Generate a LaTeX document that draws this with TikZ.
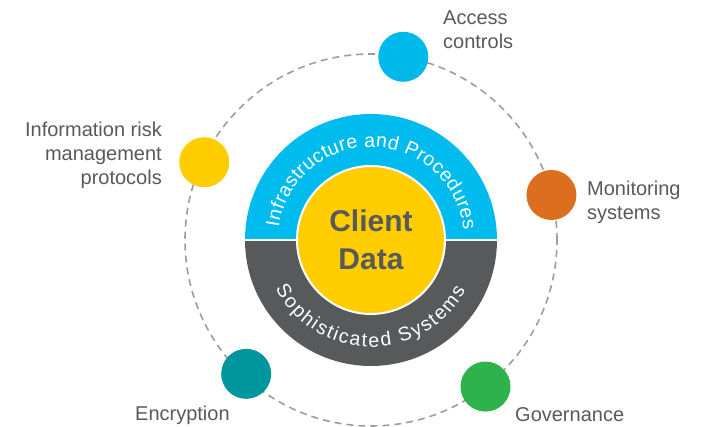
\documentclass[tikz,border=0pt]{standalone}
\usepackage{fontspec}
\setmainfont{Liberation Sans}
\usetikzlibrary{decorations.text}

\definecolor{ringblue}{HTML}{00BCEE}
\definecolor{ringgray}{HTML}{58595B}
\definecolor{datayellow}{HTML}{FFCD00}
\definecolor{accessblue}{HTML}{00B9EB}
\definecolor{monitororange}{HTML}{DC6F1F}
\definecolor{govgreen}{HTML}{2EB24B}
\definecolor{encteal}{HTML}{00969E}
\definecolor{labelgray}{HTML}{58595B}
\definecolor{dashgray}{HTML}{9D9D9D}

\begin{document}
\begin{tikzpicture}[
    x=1pt, y=1pt,
    dot/.style = {
      circle,
      minimum size=50pt,
      inner sep=0pt
    },
    lbl/.style = {
      text=labelgray,
      font=\fontsize{20}{24}\selectfont,
      inner sep=0pt
    }
  ]
    \useasboundingbox (-371,-187) rectangle (331,240);

    % Dashed orbit
    \draw[dashgray, line width=1.6pt, dash pattern=on 7pt off 5pt] (0,0) circle[radius=186pt];

    % Two half rings
    \fill[ringblue] (0,0) -- (0:126pt) arc[start angle=0, end angle=180, radius=126pt] -- cycle;
    \fill[ringgray] (0,0) -- (180:126pt) arc[start angle=180, end angle=360, radius=126pt] -- cycle;
    \draw[white, line width=1.5pt] (-127,0) -- (127,0);

    % Texts on the rings
    \path[decorate, decoration={text along path, text align=fit to path, text color=white,
      text={|\fontsize{19.5}{19.5}\selectfont|Infrastructure and Procedures}}]
      (172:93pt) arc[start angle=172, end angle=6, radius=93pt];
    \path[decorate, decoration={text along path, text align=fit to path, text color=white,
      text={|\fontsize{19.5}{19.5}\selectfont|Sophisticated Systems}}]
      (207:107pt) arc[start angle=207, end angle=332, radius=107pt];

    % Centre
    \node[circle, fill=datayellow, draw=white, line width=2pt, minimum size=148pt,
      text=labelgray, font=\fontsize{30}{38}\selectfont\bfseries, align=center]
      (data) at (0,0) {Client\\Data};

    % Dots on the orbit
    \node[dot, fill=accessblue]    (access)  at (80:186pt)  {};
    \node[dot, fill=monitororange] (monitor) at (14:186pt)  {};
    \node[dot, fill=govgreen]      (gov)     at (-52:186pt) {};
    \node[dot, fill=encteal]       (enc)     at (227:183pt) {};
    \node[dot, fill=datayellow]    (info)    at (155:184pt) {};

    % Labels (base = last line)
    \node[lbl, anchor=base west, align=left]  (accesstext)  at (72,191)   {Access\\controls};
    \node[lbl, anchor=base west, align=left]  (monitortext) at (216,20)   {Monitoring\\systems};
    \node[lbl, anchor=base east, align=right] (infotext)    at (-209,55)  {Information risk\\management\\protocols};
    \node[lbl, anchor=base west]              (enctext)     at (-236,-181) {Encryption};
    \node[lbl, anchor=base west]              (govtext)     at (144,-182) {Governance};

\end{tikzpicture}
\end{document}
